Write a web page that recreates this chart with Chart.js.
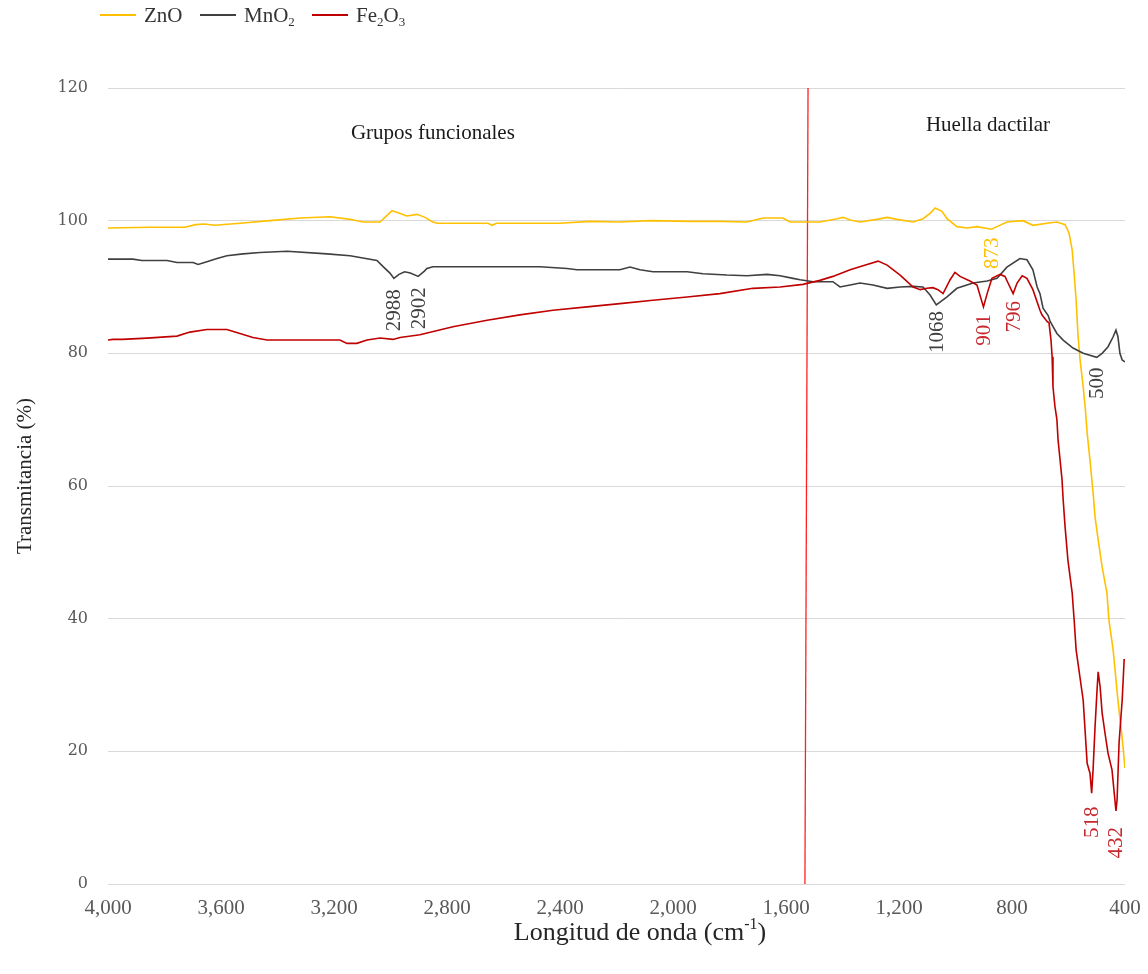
<!DOCTYPE html>
<html>
<head>
<meta charset="utf-8">
<script src="https://cdn.jsdelivr.net/npm/chart.js@4.4.1/dist/chart.umd.min.js"></script>
<style>
  html, body { margin: 0; padding: 0; background: #ffffff; }
  #wrap { position: relative; width: 1148px; height: 974px; }
  #chart { position: absolute; left: 0; top: 0; }
  .leg { position: absolute; top: 3px; font-family: "Liberation Serif", "Times New Roman", serif;
         font-size: 21px; color: #333333; height: 24px; line-height: 24px; white-space: nowrap; }
  .leg i { display: inline-block; width: 36px; height: 2px; margin-right: 8px; vertical-align: middle; position: relative; top: -2px; }
  .leg sub { font-size: 13px; vertical-align: baseline; position: relative; top: 4px; line-height: 0; }
</style>
</head>
<body>
<div id="wrap">
  <canvas id="chart" width="1148" height="974"></canvas>
  <div class="leg" style="left:100px"><i style="background:#FFC000"></i>ZnO</div>
  <div class="leg" style="left:200px"><i style="background:#404040"></i>MnO<sub>2</sub></div>
  <div class="leg" style="left:312px"><i style="background:#C00000"></i>Fe<sub>2</sub>O<sub>3</sub></div>
</div>
<script>
// FTIR spectra: wavenumber (cm-1) and transmittance (%) per sample
const wnZnO = [4000, 3851, 3727, 3690, 3660, 3621, 3533, 3427, 3320, 3214, 3143, 3097, 3037, 3012, 2995, 2973, 2942, 2906, 2878, 2850, 2835, 2655, 2640, 2625, 2506, 2400, 2294, 2188, 2081, 1940, 1834, 1738, 1681, 1611, 1586, 1480, 1419, 1398, 1373, 1338, 1278, 1242, 1207, 1150, 1115, 1090, 1072, 1048, 1030, 995, 959, 924, 873, 853, 818, 761, 726, 676, 641, 612, 598, 587, 580, 573, 566, 559, 548, 541, 534, 524, 513, 506, 495, 481, 464, 457, 442, 425, 410, 400];
const tZnO  = [98.9, 99.0, 99.0, 99.4, 99.5, 99.3, 99.6, 100.0, 100.4, 100.6, 100.2, 99.8, 99.8, 100.8, 101.5, 101.2, 100.7, 100.95, 100.5, 99.8, 99.6, 99.6, 99.3, 99.6, 99.6, 99.6, 99.9, 99.8, 100.0, 99.9, 99.9, 99.8, 100.4, 100.4, 99.8, 99.8, 100.3, 100.5, 100.1, 99.8, 100.2, 100.5, 100.2, 99.8, 100.3, 101.1, 101.9, 101.4, 100.3, 99.1, 98.9, 99.1, 98.7, 99.1, 99.8, 100.0, 99.3, 99.6, 99.8, 99.4, 98.1, 95.6, 92.0, 88.0, 82.5, 79.0, 74.9, 71.9, 68.0, 63.9, 59.0, 55.3, 51.9, 47.8, 43.9, 39.8, 35.3, 27.7, 22.0, 17.5];

const wnMnO2 = [4000, 3912, 3880, 3791, 3756, 3699, 3681, 3650, 3614, 3579, 3522, 3462, 3366, 3225, 3143, 3048, 3027, 3002, 2988, 2970, 2950, 2930, 2902, 2880, 2871, 2850, 2471, 2375, 2340, 2188, 2152, 2117, 2071, 1950, 1894, 1809, 1738, 1667, 1621, 1575, 1550, 1504, 1434, 1409, 1373, 1338, 1292, 1242, 1196, 1150, 1115, 1090, 1068, 1030, 995, 938, 888, 853, 818, 772, 747, 726, 711, 701, 690, 672, 665, 641, 619, 584, 548, 500, 481, 460, 442, 432, 425, 418, 410, 400];
const tMnO2  = [94.2, 94.2, 94.0, 94.0, 93.7, 93.7, 93.4, 93.8, 94.3, 94.7, 95.0, 95.2, 95.4, 95.0, 94.7, 94.0, 93.1, 92.1, 91.3, 91.9, 92.3, 92.1, 91.6, 92.4, 92.8, 93.05, 93.05, 92.8, 92.6, 92.6, 93.0, 92.6, 92.3, 92.3, 92.0, 91.8, 91.7, 91.9, 91.7, 91.3, 91.1, 90.8, 90.8, 90.0, 90.3, 90.6, 90.3, 89.8, 90.0, 90.1, 90.0, 88.8, 87.3, 88.5, 89.8, 90.6, 90.9, 91.3, 93.0, 94.3, 94.1, 92.6, 90.0, 89.0, 86.8, 85.7, 84.8, 83.0, 82.0, 80.8, 80.0, 79.4, 80.0, 81.0, 82.5, 83.5, 82.5, 80.0, 79.0, 78.7];

const wnFe2O3 = [4000, 3982, 3950, 3862, 3756, 3710, 3650, 3579, 3533, 3487, 3437, 3345, 3179, 3154, 3119, 3083, 3037, 2991, 2966, 2896, 2779, 2658, 2542, 2425, 2304, 2188, 2071, 1950, 1834, 1717, 1621, 1540, 1480, 1434, 1373, 1313, 1274, 1242, 1196, 1150, 1125, 1101, 1080, 1062, 1044, 1019, 1002, 984, 949, 924, 901, 888, 871, 842, 825, 814, 796, 782, 764, 747, 726, 701, 694, 676, 669, 662, 658, 655, 648, 641, 637, 630, 623, 619, 612, 602, 587, 580, 573, 548, 534, 524, 518, 513, 506, 499, 495, 488, 481, 471, 460, 446, 432, 428, 421, 410, 403, 400];
const tFe2O3  = [82.0, 82.1, 82.1, 82.3, 82.6, 83.2, 83.6, 83.6, 83.0, 82.4, 82.0, 82.0, 82.0, 81.5, 81.5, 82.0, 82.3, 82.1, 82.4, 82.8, 84.0, 85.0, 85.8, 86.5, 87.0, 87.5, 88.0, 88.5, 89.0, 89.8, 90.0, 90.4, 91.0, 91.6, 92.6, 93.4, 93.9, 93.3, 91.8, 90.0, 89.6, 89.8, 89.9, 89.6, 89.0, 91.1, 92.2, 91.6, 90.9, 90.3, 87.0, 89.0, 91.3, 91.9, 91.6, 90.6, 89.0, 90.6, 91.7, 91.3, 89.6, 86.5, 85.8, 84.8, 84.6, 82.0, 79.5, 75.0, 72.0, 70.0, 67.0, 64.0, 61.0, 58.0, 53.8, 48.8, 43.9, 39.8, 35.3, 27.7, 18.2, 16.7, 13.7, 17.2, 23.7, 29.2, 32.0, 29.7, 25.8, 22.8, 19.7, 17.2, 11.0, 12.7, 21.3, 27.7, 33.8, 33.8];

// Boundary between functional-group and fingerprint regions
const divWn = [1533, 1522];
const divT  = [0, 120];

// Axis ticks
const xTicks = [400, 800, 1200, 1600, 2000, 2400, 2800, 3200, 3600, 4000];
const yTicks = [0, 20, 40, 60, 80, 100, 120];

// Peak labels: text, wavenumber, transmittance at label centre, colour
const peakText  = ['2988', '2902', '1068', '901', '796', '873', '500', '518', '432'];
const peakWn    = [2988, 2902, 1068, 901, 796, 873, 500, 518, 432];
const peakY     = [86.5, 86.8, 83.2, 83.5, 85.5, 95.1, 75.5, 9.3, 6.2];
const peakColor = ['#404040', '#404040', '#404040', '#C8282D', '#C8282D', '#FFC000', '#404040', '#C8282D', '#C8282D'];

// Region captions
const regionText = ['Grupos funcionales', 'Huella dactilar'];
const regionWn   = [2850, 885];
const regionY    = [113.2, 114.3];

const pts = (xs, ys) => xs.map((x, i) => ({ x: x, y: ys[i] }));

const SERIF = '"Liberation Serif", "Times New Roman", serif';

const textPlugin = {
  id: 'texts',
  afterDraw(chart) {
    const { ctx, scales: { x, y }, chartArea } = chart;
    ctx.save();
    // peak labels, rotated
    ctx.font = '21px ' + SERIF;
    ctx.textAlign = 'center';
    ctx.textBaseline = 'middle';
    peakText.forEach((t, i) => {
      ctx.save();
      ctx.translate(x.getPixelForValue(peakWn[i]), y.getPixelForValue(peakY[i]));
      ctx.rotate(-Math.PI / 2);
      ctx.fillStyle = peakColor[i];
      ctx.fillText(t, 0, 1);
      ctx.restore();
    });
    // region captions
    ctx.fillStyle = '#1a1a1a';
    regionText.forEach((t, i) => {
      ctx.fillText(t, x.getPixelForValue(regionWn[i]), y.getPixelForValue(regionY[i]));
    });
    // y-axis title
    ctx.save();
    ctx.translate(25, (chartArea.top + chartArea.bottom) / 2 - 10);
    ctx.rotate(-Math.PI / 2);
    ctx.font = '21px ' + SERIF;
    ctx.fillStyle = '#262626';
    ctx.fillText('Transmitancia (%)', 0, 0);
    ctx.restore();
    // x-axis title with superscript
    const cx = 640, cy = 933;
    const main1 = 'Longitud de onda (cm', sup = '-1', main2 = ')';
    ctx.font = '26px ' + SERIF;
    const w1 = ctx.measureText(main1).width, w3 = ctx.measureText(main2).width;
    ctx.font = '16px ' + SERIF;
    const w2 = ctx.measureText(sup).width;
    let sx = cx - (w1 + w2 + w3) / 2;
    ctx.textAlign = 'left';
    ctx.fillStyle = '#262626';
    ctx.font = '26px ' + SERIF;
    ctx.fillText(main1, sx, cy);
    ctx.font = '16px ' + SERIF;
    ctx.fillText(sup, sx + w1, cy - 8);
    ctx.font = '26px ' + SERIF;
    ctx.fillText(main2, sx + w1 + w2, cy);
    ctx.restore();
  }
};

const lineDs = (label, data, color, width) => ({
  label, data, borderColor: color, backgroundColor: color,
  borderWidth: width, pointRadius: 0, tension: 0, fill: false
});

new Chart(document.getElementById('chart'), {
  type: 'line',
  data: {
    datasets: [
      lineDs('Fe2O3', pts(wnFe2O3, tFe2O3), '#C00000', 1.6),
      lineDs('MnO2', pts(wnMnO2, tMnO2), '#404040', 1.6),
      lineDs('ZnO', pts(wnZnO, tZnO), '#FFC000', 1.6),
      lineDs('division', pts(divWn, divT), '#FF2020', 1.3)
    ]
  },
  options: {
    responsive: false,
    devicePixelRatio: 1,
    animation: false,
    layout: { padding: { left: 0, right: 23, top: 88, bottom: 0 } },
    plugins: { legend: { display: false }, tooltip: { enabled: false } },
    scales: {
      x: {
        type: 'linear',
        reverse: true,
        min: 400, max: 4000,
        afterFit(s) { s.height = 90; s.paddingLeft = 0; s.paddingRight = 0; },
        afterBuildTicks(s) { s.ticks = xTicks.map(v => ({ value: v })); },
        grid: { display: false, drawTicks: false },
        border: { display: false },
        ticks: {
          padding: 12, maxRotation: 0, autoSkip: false,
          color: '#595959', font: { family: SERIF, size: 21 },
          callback: v => v.toLocaleString('en-US')
        }
      },
      y: {
        min: 0, max: 120,
        afterFit(s) { s.width = 108; s.paddingTop = 0; s.paddingBottom = 0; },
        afterBuildTicks(s) { s.ticks = yTicks.map(v => ({ value: v })); },
        grid: { color: '#D9D9D9', lineWidth: 1, drawTicks: false },
        border: { display: false },
        ticks: {
          padding: 20, color: '#595959',
          font: { family: '"DejaVu Serif", serif', size: 16 }
        }
      }
    }
  },
  plugins: [textPlugin]
});
</script>
</body>
</html>
